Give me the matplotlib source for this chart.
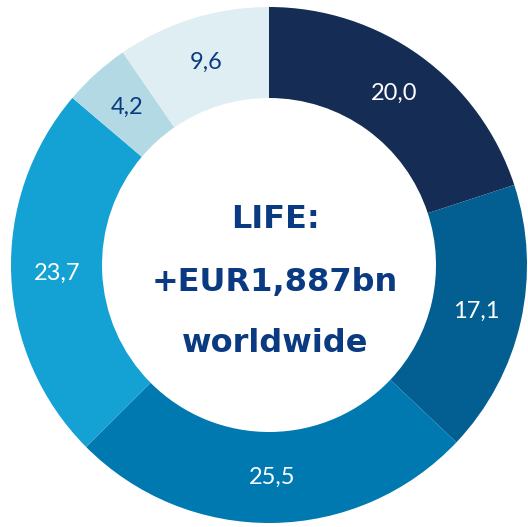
import matplotlib
matplotlib.use('Agg')
import matplotlib.pyplot as plt

# Life premiums by region, share in % (clockwise from 12 o'clock)
values = [20.0, 17.1, 25.5, 23.7, 4.2, 9.6]
value_labels = ['20,0', '17,1', '25,5', '23,7', '4,2', '9,6']
colors = ['#152c55', '#035f91', '#0079b1', '#14a1d3', '#b3d9e5', '#dfeef2']
label_colors = ['white', 'white', 'white', 'white', '#0a3a82', '#0a3a82']
center_lines = ['LIFE:', '+EUR1,887bn', 'worldwide']

W, H = 528, 527
fig = plt.figure(figsize=(W / 100, H / 100), dpi=100)
ax = fig.add_axes([0, 0, 1, 1])

cx, cy = 269, H - 265
r_out, r_in = 258, 167
ring = r_out - r_in

wedges, texts = ax.pie(values, labels=value_labels, colors=colors,
                       startangle=90, counterclock=False,
                       center=(cx, cy), radius=r_out,
                       labeldistance=(r_out - ring / 2) / r_out,
                       wedgeprops=dict(width=ring, linewidth=0),
                       frame=True)
ax.set_xlim(0, W)
ax.set_ylim(0, H)
ax.set_aspect('equal')
ax.axis('off')

for t, c in zip(texts, label_colors):
    t.set_ha('center')
    t.set_va('center')
    t.set_color(c)
    t.set_fontsize(17)
    t.set_family(['Lato', 'DejaVu Sans'])

line_y = [H - 220, H - 283, H - 343]
for txt, y in zip(center_lines, line_y):
    ax.text(cx + 6, y, txt, ha='center', va='center', fontsize=23,
            fontweight='bold', color='#0a3a82', family='DejaVu Sans')

fig.savefig('out.png', dpi=100, facecolor='white')
